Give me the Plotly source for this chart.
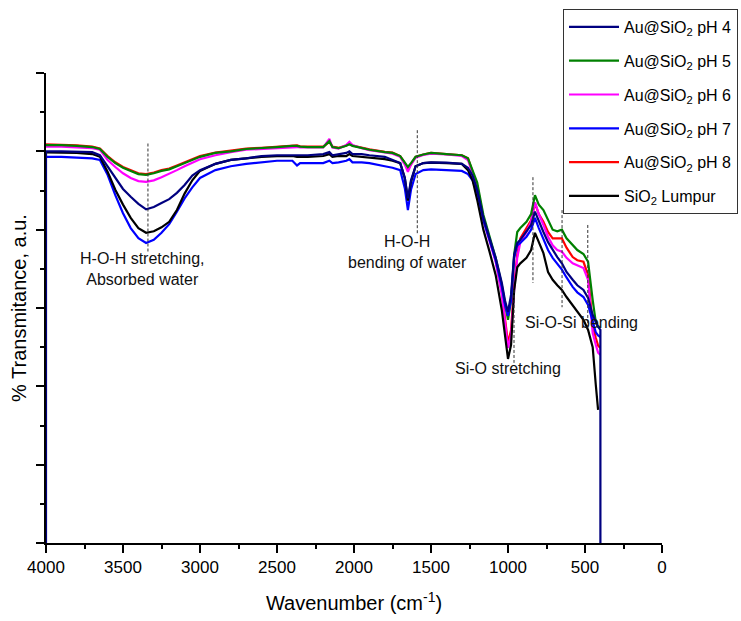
import plotly.graph_objects as go

# FTIR spectra of Au@SiO2 prepared at different pH and the bare SiO2 (Lumpur)
wavenumber = [4000, 3900, 3800, 3700, 3650, 3600, 3550, 3500, 3450, 3400,
              3350, 3300, 3250, 3200, 3150, 3100, 3050, 3000, 2900, 2800,
              2700, 2600, 2500, 2400, 2370, 2350, 2300, 2200, 2160, 2140,
              2100, 2050, 2030, 2010, 1950, 1900, 1800, 1750, 1700, 1670,
              1650, 1630, 1600, 1550, 1500, 1400, 1300, 1260, 1230, 1200,
              1160, 1120, 1080, 1040, 1020, 1000, 980, 960, 940, 920,
              880, 850, 825, 800, 770, 740, 710, 680, 650, 620,
              580, 550, 510, 480, 450, 430, 415, 400]

ph4 = [50.0, 50.0, 49.95, 49.9, 49.5, 48.1, 46.6, 45.2, 44.2, 43.3,
       42.6, 42.9, 43.4, 43.9, 44.7, 45.7, 46.9, 47.6, 48.4, 48.9,
       49.1, 49.4, 49.5, 49.5, 49.5, 49.45, 49.5, 49.65, 49.9, 49.5,
       49.65, 49.8, 50.0, 49.65, 49.65, 49.5, 49.3, 48.9, 48.5, 46.6,
       44.0, 46.3, 48.1, 48.5, 48.6, 48.55, 48.4, 47.9, 46.9, 45.1,
       41.5, 38.9, 36.4, 33.2, 31.0, 29.5, 31.7, 36.8, 38.3, 38.7,
       39.7, 40.6, 42.3, 41.0, 39.7, 38.4, 37.4, 36.5, 35.7, 34.6,
       33.6, 32.9, 32.3, 31.3, 29.1, 28.1, 27.6, 27.2]

ph5 = [50.8, 50.8, 50.7, 50.55, 50.3, 49.3, 48.5, 47.9, 47.5, 47.1,
       47.0, 47.2, 47.5, 47.7, 48.1, 48.5, 48.9, 49.3, 49.8, 50.0,
       50.3, 50.4, 50.55, 50.7, 50.7, 50.6, 50.55, 50.55, 51.3, 50.55,
       50.4, 50.7, 50.9, 50.7, 50.4, 50.2, 49.9, 49.8, 49.4, 48.6,
       48.0, 48.5, 49.3, 49.6, 49.8, 49.65, 49.5, 49.1, 47.6, 46.0,
       41.9, 39.1, 36.4, 32.9, 30.4, 28.5, 31.0, 36.8, 39.7, 40.2,
       41.0, 42.0, 44.4, 43.2, 42.5, 41.2, 40.0, 39.8, 40.0, 38.9,
       38.0, 37.4, 36.9, 35.9, 31.0, 28.2, 27.6, 27.6]

ph6 = [50.6, 50.6, 50.5, 50.4, 50.2, 48.9, 48.0, 47.2, 46.6, 46.2,
       46.1, 46.3, 46.7, 47.1, 47.6, 48.1, 48.6, 49.0, 49.5, 49.9,
       50.2, 50.3, 50.4, 50.55, 50.55, 50.5, 50.5, 50.5, 51.6, 50.5,
       50.35, 50.8, 51.2, 50.8, 50.4, 50.15, 49.85, 49.7, 49.3, 48.3,
       47.4, 48.3, 49.2, 49.55, 49.7, 49.6, 49.4, 48.9, 47.2, 45.6,
       41.2, 38.4, 35.9, 31.7, 28.2, 24.9, 26.6, 32.3, 36.4, 38.4,
       39.7, 41.0, 43.5, 42.0, 40.6, 39.1, 38.0, 37.4, 37.2, 36.4,
       35.7, 35.4, 35.1, 33.6, 26.8, 25.3, 24.3, 24.0]

ph7 = [49.3, 49.3, 49.2, 49.1, 48.9, 47.0, 44.4, 42.1, 40.2, 38.9,
       38.3, 38.7, 39.6, 40.7, 42.3, 44.0, 45.4, 46.6, 47.6, 48.1,
       48.4, 48.6, 48.8, 48.8, 48.2, 48.5, 48.5, 48.5, 48.8, 48.5,
       48.6, 48.8, 49.0, 48.6, 48.6, 48.5, 48.1, 47.9, 47.6, 45.3,
       42.5, 45.1, 47.1, 47.6, 47.7, 47.6, 47.5, 47.1, 46.3, 44.7,
       41.2, 38.7, 36.1, 32.7, 30.4, 29.0, 31.0, 36.4, 38.0, 38.3,
       39.1, 40.0, 41.5, 40.2, 38.7, 37.4, 36.4, 35.6, 34.9, 33.9,
       32.7, 32.0, 31.4, 30.4, 28.1, 26.9, 26.5, 26.3]

ph8 = [50.9, 50.85, 50.75, 50.6, 50.35, 49.4, 48.6, 48.0, 47.6, 47.2,
       47.1, 47.3, 47.6, 47.8, 48.2, 48.6, 49.0, 49.4, 49.85, 50.1,
       50.35, 50.45, 50.6, 50.75, 50.75, 50.65, 50.6, 50.6, 51.2, 50.6,
       50.45, 50.75, 51.0, 50.75, 50.45, 50.25, 49.95, 49.85, 49.4, 48.5,
       47.7, 48.4, 49.3, 49.6, 49.8, 49.65, 49.5, 49.1, 47.4, 45.6,
       41.5, 38.8, 36.1, 32.0, 28.7, 25.5, 27.2, 32.9, 36.8, 38.9,
       40.2, 41.2, 43.4, 42.0, 41.0, 39.7, 38.9, 38.9, 38.9, 37.7,
       36.5, 36.1, 35.9, 34.2, 27.8, 26.2, 25.2, 24.9]

sio2_lumpur = [49.85, 49.85, 49.8, 49.65, 49.3, 47.4, 45.1, 43.2, 41.5, 40.2,
               39.6, 39.8, 40.3, 41.0, 42.5, 44.6, 46.3, 47.5, 48.4, 48.9,
               49.1, 49.3, 49.4, 49.4, 49.3, 49.3, 49.3, 49.4, 49.65, 49.3,
               49.4, 49.4, 49.65, 49.4, 49.3, 49.25, 49.0, 48.8, 48.5, 46.6,
               43.7, 46.1, 48.1, 48.5, 48.55, 48.5, 48.4, 47.6, 46.3, 43.8,
               40.0, 37.2, 34.2, 29.7, 26.6, 23.5, 25.3, 32.3, 35.2, 35.7,
               36.4, 37.4, 39.6, 38.3, 37.0, 34.6, 33.6, 32.9, 32.3, 31.4,
               30.4, 29.5, 28.5, 27.2, 25.0, 20.2, 17.0, None]

# pH 4 spectrum is closed down to the baseline at both ends
baseline = 0

# (name, values, colour), in legend order
series = [
    ("Au@SiO<sub>2</sub> pH 4", ph4, "#000080"),
    ("Au@SiO<sub>2</sub> pH 5", ph5, "#008000"),
    ("Au@SiO<sub>2</sub> pH 6", ph6, "#FF00FF"),
    ("Au@SiO<sub>2</sub> pH 7", ph7, "#0000FF"),
    ("Au@SiO<sub>2</sub> pH 8", ph8, "#FF0000"),
    ("SiO<sub>2</sub> Lumpur", sio2_lumpur, "#000000"),
]
# drawing order (later ones on top)
draw_order = [4, 2, 1, 3, 5, 0]

# band assignments: (wavenumber, y top, y bottom) of the dashed guide lines
band_guides = [
    (3338, 51.0, 37.2),
    (1589, 52.7, 39.3),
    (838, 46.7, 33.2),
    (961, 32.3, 23.0),
    (649, 42.5, 30.1),
    (482, 40.6, 27.4),
]

# band labels: (text, wavenumber, y)
band_labels = [
    ("H-O-H stretching,<br>Absorbed water", 3377, 35.0),
    ("H-O-H<br>bending of water", 1655, 37.1),
    ("Si-O stretching", 1000, 22.3),
    ("Si-O-Si bending", 525, 28.2),
]

FONT = "Liberation Sans, Arial, sans-serif"

fig = go.Figure()
for idx in draw_order:
    name, vals, colour = series[idx]
    x = list(wavenumber)
    y = list(vals)
    if vals is ph4:
        x = [wavenumber[0]] + x + [wavenumber[-1]]
        y = [baseline] + y + [baseline]
    fig.add_trace(go.Scatter(
        x=x, y=y, mode="lines", name=name,
        line=dict(color=colour, width=2.2),
        legendgroup=str(idx), legendrank=idx + 1,
    ))

for wn, y0, y1 in band_guides:
    fig.add_shape(type="line", xref="x", yref="y", x0=wn, x1=wn, y0=y0, y1=y1,
                  line=dict(color="#333333", width=1, dash="3px,2px"))

for text, wn, y in band_labels:
    fig.add_annotation(x=wn, y=y, xref="x", yref="y", text=text, showarrow=False,
                       font=dict(family=FONT, size=16, color="#111111"),
                       xanchor="center", yanchor="middle")

fig.update_layout(
    width=741, height=621,
    margin=dict(l=46, r=79, t=73, b=78, autoexpand=False),
    paper_bgcolor="white", plot_bgcolor="white",
    font=dict(family=FONT, color="black"),
    showlegend=True,
    legend=dict(
        x=0.8393, y=1.1362, xanchor="left", yanchor="top",
        xref="paper", yref="paper",
        bgcolor="white", bordercolor="#333333", borderwidth=1,
        font=dict(family=FONT, size=16, color="black"),
        traceorder="grouped", tracegroupgap=10, itemwidth=50,
    ),
    xaxis=dict(
        range=[4000, 0], dtick=500, tick0=0,
        showgrid=False, zeroline=False, automargin=False,
        showline=True, linecolor="black", linewidth=1.5,
        ticks="outside", ticklen=8, tickwidth=1.5, tickcolor="black",
        minor=dict(dtick=250, ticks="outside", ticklen=4, tickwidth=1.5, tickcolor="black"),
        tickfont=dict(family=FONT, size=17, color="black"),
        title=dict(text="Wavenumber (cm<sup>-1</sup>)", font=dict(family=FONT, size=20, color="black"), standoff=20),
        layer="below traces",
    ),
    yaxis=dict(
        range=[0, 60], dtick=10, tick0=0,
        showgrid=False, zeroline=False, automargin=False,
        showline=True, linecolor="black", linewidth=1.5,
        ticks="outside", ticklen=8, tickwidth=1.5, tickcolor="black",
        minor=dict(dtick=5, ticks="outside", ticklen=4, tickwidth=1.5, tickcolor="black"),
        showticklabels=False,
        title=dict(text="% Transmitance, a.u.", font=dict(family=FONT, size=20, color="black"), standoff=4),
        layer="below traces",
    ),
)

fig.write_html("out.html")
